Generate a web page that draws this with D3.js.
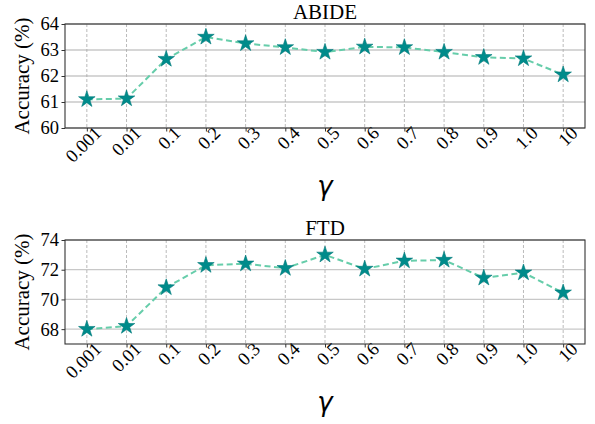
<!DOCTYPE html>
<html>
<head>
<meta charset="utf-8">
<script src="https://cdn.jsdelivr.net/npm/d3@7"></script>
<style>
  body { margin: 0; background: #fff; }
  svg { display: block; }
  .tick text { font-family: "Times New Roman", "Liberation Serif", serif; font-size: 18.5px; fill: #000; }
  .title, .ylab { font-family: "Times New Roman", "Liberation Serif", serif; font-size: 21px; fill: #000; }
  .xlab { font-family: "DejaVu Sans", sans-serif; font-style: italic; font-size: 26px; fill: #000; }
</style>
</head>
<body>
<script>
// gamma values (categories)
var gammas = ["0.001", "0.01", "0.1", "0.2", "0.3", "0.4", "0.5", "0.6", "0.7", "0.8", "0.9", "1.0", "10"];

// accuracy per dataset
var abideAcc = [61.1, 61.13, 62.65, 63.5, 63.25, 63.1, 62.92, 63.12, 63.1, 62.92, 62.72, 62.67, 62.05];
var ftdAcc = [68.0, 68.2, 70.8, 72.3, 72.4, 72.1, 73.0, 72.05, 72.6, 72.65, 71.45, 71.8, 70.45];

// y ticks
var abideTicks = [60, 61, 62, 63, 64];
var ftdTicks = [68, 70, 72, 74];

window.onload = drawChart();

function drawChart(){

    var width = 595,
        height = 424;

    var svg = d3.select("body")
        .append("svg")
        .attr("width", width)
        .attr("height", height);

    // two panels, same x layout
    drawPanel(svg, "ABIDE", abideAcc, [60, 64], abideTicks, 24);
    drawPanel(svg, "FTD", ftdAcc, [67, 74], ftdTicks, 240);
};

function drawPanel(svg, name, values, yDomain, yTicks, top){

    var left = 65,
        right = 585,
        h = 104;

    var x = d3.scalePoint()
        .domain(gammas)
        .range([left, right])
        .padding(0.55);

    var y = d3.scaleLinear()
        .domain(yDomain)
        .range([top + h, top]);

    var g = svg.append("g");

    // horizontal grid (solid)
    g.selectAll(".hgrid")
        .data(yTicks)
        .enter()
        .append("line")
        .attr("x1", left)
        .attr("x2", right)
        .attr("y1", function(d){ return y(d); })
        .attr("y2", function(d){ return y(d); })
        .attr("stroke", "#c8c8c8")
        .attr("stroke-width", 1.3);

    // vertical grid (dashed)
    g.selectAll(".vgrid")
        .data(gammas)
        .enter()
        .append("line")
        .attr("x1", function(d){ return x(d); })
        .attr("x2", function(d){ return x(d); })
        .attr("y1", top)
        .attr("y2", top + h)
        .attr("stroke", "#aaaaaa")
        .attr("stroke-width", 0.8)
        .attr("stroke-dasharray", "3,2");

    // axes
    var yAxis = g.append("g")
        .attr("transform", "translate(" + left + ",0)")
        .call(d3.axisLeft(y).tickValues(yTicks).tickSize(3.5).tickPadding(2.5).tickFormat(d3.format("d")));

    var xAxis = g.append("g")
        .attr("transform", "translate(0," + (top + h) + ")")
        .call(d3.axisBottom(x).tickSize(3.5).tickPadding(3));

    yAxis.select(".domain").remove();
    xAxis.select(".domain").remove();
    g.selectAll(".tick line").attr("stroke", "#333");

    xAxis.selectAll(".tick text")
        .attr("text-anchor", "end")
        .attr("dy", "0.35em")
        .attr("transform", "translate(6,-3) rotate(-45)");

    // frame
    g.append("rect")
        .attr("x", left)
        .attr("y", top)
        .attr("width", right - left)
        .attr("height", h)
        .attr("fill", "none")
        .attr("stroke", "#333")
        .attr("stroke-width", 1.1);

    // dashed line
    var line = d3.line()
        .x(function(d, i){ return x(gammas[i]); })
        .y(function(d){ return y(d); });

    g.append("path")
        .datum(values)
        .attr("d", line)
        .attr("fill", "none")
        .attr("stroke", "#66cdaa")
        .attr("stroke-width", 2)
        .attr("stroke-dasharray", "6,3.5");

    // star markers
    var star = d3.symbol().type(d3.symbolStar).size(85);

    g.selectAll(".pt")
        .data(values)
        .enter()
        .append("path")
        .attr("d", star)
        .attr("transform", function(d, i){
            return "translate(" + x(gammas[i]) + "," + y(d) + ")";
        })
        .attr("fill", "#008b8b")
        .attr("stroke", "#007a7a")
        .attr("stroke-width", 0.6);

    // labels
    g.append("text")
        .attr("class", "title")
        .attr("x", (left + right) / 2)
        .attr("y", top - 5.5)
        .attr("text-anchor", "middle")
        .text(name);

    g.append("text")
        .attr("class", "ylab")
        .attr("transform", "translate(29," + (top + h / 2) + ") rotate(-90)")
        .attr("text-anchor", "middle")
        .text("Accuracy (%)");

    g.append("text")
        .attr("class", "xlab")
        .attr("x", (left + right) / 2)
        .attr("y", top + 171)
        .attr("text-anchor", "middle")
        .text("γ");
};
</script>
</body>
</html>
